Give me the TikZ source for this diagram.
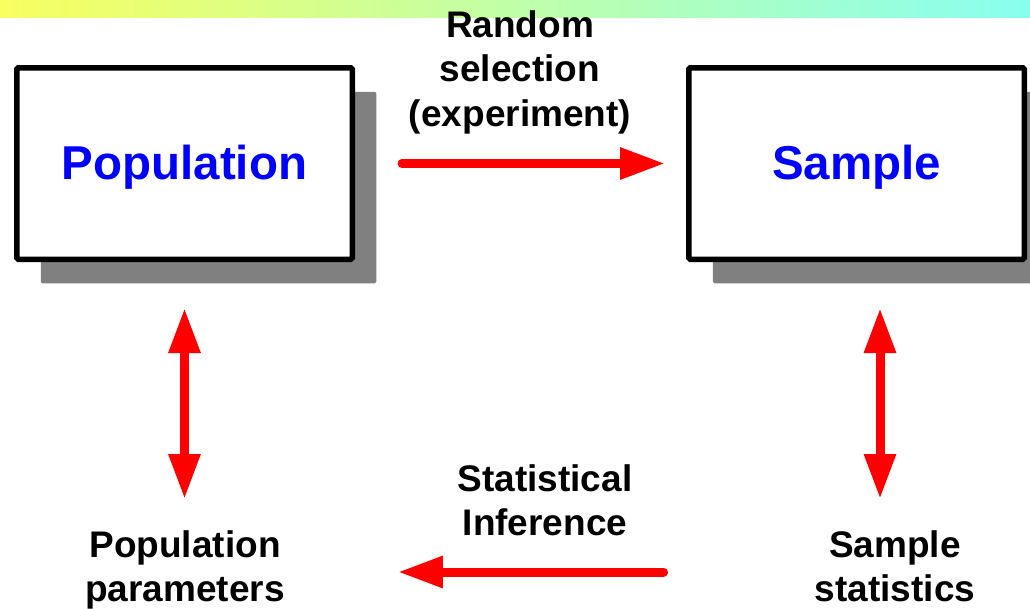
\documentclass[tikz,border=0pt]{standalone}
\usepackage{fontspec}
\setmainfont{Liberation Sans}
\usepackage{xcolor}
\usepackage{tikz}
\usetikzlibrary{shapes,arrows,positioning,calc,shadows,arrows.meta}

\definecolor{topyellow}{HTML}{F8FF60}
\definecolor{topcyan}{HTML}{88FFF0}
\definecolor{shadowgray}{HTML}{808080}

\tikzset{
    box/.style={draw, fill=white, line width=5.5pt, rounded corners=1.5pt,
        minimum width=335.5pt, minimum height=191.5pt, inner sep=0pt,
        text height=34pt, text depth=3pt, text=blue,
        font=\fontsize{47.5}{56}\selectfont\bfseries,
        drop shadow={shadow xshift=24pt, shadow yshift=-24pt, fill=shadowgray, opacity=1}},
    lbl/.style={font=\fontsize{37}{44.5}\selectfont\bfseries, align=center, inner sep=0pt, anchor=north},
    flow/.style={red, line width=9pt, line cap=round, -{Triangle[length=45pt,width=30pt]}},
    dflow/.style={flow, {Triangle[length=45pt,width=30pt]}-{Triangle[length=45pt,width=30pt]}}
}

\begin{document}
\begin{tikzpicture}[x=1pt, y=-1pt]
    \useasboundingbox (0,0) rectangle (1030,608);

    % Title bar
    \shade [left color=topyellow, right color=topcyan] (0,0) rectangle (1030,17);

    % Boxes
    \node [box] (pop) at (184.5,163.5) {Population};
    \node [box] (samp) at (856.5,163.5) {Sample};

    % Labels
    \node [lbl] (sel) at (520,10) {Random\\selection\\(experiment)};
    \node [lbl] (inf) at (545,464) {Statistical\\Inference};
    \node [lbl] (params) at (185,530) {Population\\parameters};
    \node [lbl] (stats) at (895,530) {Sample\\statistics};

    % Selection
    \draw [flow, shorten <=47pt, shorten >=21pt] (pop.east) -- (samp.west);

    % Parameters and statistics
    \draw [dflow, shorten <=46pt, shorten >=31pt] (pop.south) -- (pop.south |- params.north);
    \draw [dflow, shorten <=46pt, shorten >=31pt] ([xshift=23.5pt]samp.south) -- ([xshift=23.5pt]samp.south |- stats.north);

    % Inference
    \draw [flow, shorten <=151pt, shorten >=113pt] ([yshift=-42pt]stats.north west) -- ([yshift=-42pt]stats.north west -| params.east);
\end{tikzpicture}
\end{document}
